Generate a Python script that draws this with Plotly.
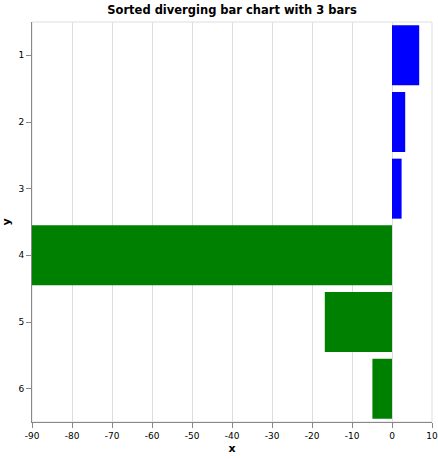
import plotly.graph_objects as go

categories = ["1", "2", "3", "4", "5", "6"]
values = [6.8, 3.3, 2.4, -90, -16.8, -4.9]
colors = ["blue", "blue", "blue", "green", "green", "green"]
x_ticks = [-90, -80, -70, -60, -50, -40, -30, -20, -10, 0, 10]

FONT = "DejaVu Sans"
W, H = 438, 459

fig = go.Figure(go.Bar(
    x=values, y=categories, orientation="h",
    marker=dict(color=colors, line=dict(width=0)),
))

fig.update_layout(
    width=W, height=H,
    margin=dict(l=32, r=6, t=22, b=37, autoexpand=False),
    paper_bgcolor="white", plot_bgcolor="white",
    bargap=0.1,
    showlegend=False,
    title=dict(text="<b>Sorted diverging bar chart with 3 bars</b>",
               x=0.5, xanchor="center", xref="paper",
               y=1 - 10/H, yanchor="middle", automargin=False,
               font=dict(family=FONT, size=11.5, color="black")),
    font=dict(family=FONT, size=10, color="black"),
)

fig.update_xaxes(
    range=[-90, 10], tickvals=x_ticks, ticktext=[str(v) for v in x_ticks],
    showgrid=True, gridcolor="#ddd", gridwidth=1,
    zeroline=False, automargin=False,
    showline=True, linecolor="#888", linewidth=1,
    ticks="outside", ticklen=5, tickcolor="#888",
    tickfont=dict(family=FONT, size=9),
    title=dict(text="<b>x</b>", font=dict(family=FONT, size=11), standoff=4),
)
fig.update_yaxes(
    categoryorder="array", categoryarray=categories, autorange="reversed",
    showgrid=False, zeroline=False, automargin=False,
    showline=True, linecolor="#888", linewidth=1,
    ticks="outside", ticklen=5, tickcolor="#888",
    tickfont=dict(family=FONT, size=9),
    title=dict(text="<b>y</b>", font=dict(family=FONT, size=11), standoff=6),
)

# view border
fig.add_shape(type="rect", xref="paper", yref="paper", x0=0, x1=1, y0=0, y1=1,
              line=dict(color="#ddd", width=1), layer="below")

fig.write_html("out.html",
               config={"displayModeBar": False},
               post_script="document.body.style.margin='0';document.body.style.overflow='hidden';")
